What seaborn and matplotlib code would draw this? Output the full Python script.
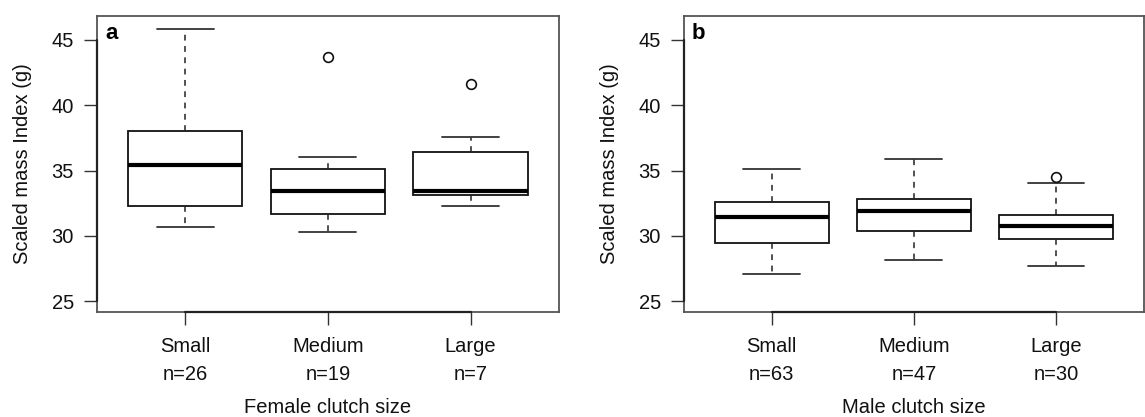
import matplotlib
matplotlib.use("Agg")
import matplotlib.pyplot as plt
import seaborn as sns
import numpy as np

# ---- data ----
categories = ["Small", "Medium", "Large"]
female_n = [26, 19, 7]
male_n = [63, 47, 30]

female_whislo = [30.67, 30.29, 32.31]
female_q1 = [32.31, 31.64, 33.15]
female_med = [35.40, 33.40, 33.40]
female_q3 = [38.00, 35.14, 36.42]
female_whishi = [45.79, 36.01, 37.54]
female_fliers = [[], [43.70], [41.58]]

male_whislo = [27.07, 28.19, 27.68]
male_q1 = [29.47, 30.39, 29.80]
male_med = [31.41, 31.92, 30.75]
male_q3 = [32.61, 32.79, 31.59]
male_whishi = [35.09, 35.91, 34.02]
male_fliers = [[], [], [34.50]]

y_ticks = [25, 30, 35, 40, 45]
y_limits = (24.16, 46.84)

sns.set_theme(style="white")
plt.rcParams["font.family"] = ["Liberation Sans", "DejaVu Sans"]

fig = plt.figure(figsize=(11.45, 4.17), dpi=100)

W, H = 1145.0, 417.0
panels = [
    dict(rect=[96.7 / W, (H - 312.3) / H, (559 - 96.7) / W, (312.3 - 15.7) / H],
         lo=female_whislo, q1=female_q1, med=female_med, q3=female_q3, hi=female_whishi,
         fl=female_fliers, n=female_n, letter="a", xlabel="Female clutch size"),
    dict(rect=[683.7 / W, (H - 312.3) / H, (1144 - 683.7) / W, (312.3 - 15.7) / H],
         lo=male_whislo, q1=male_q1, med=male_med, q3=male_q3, hi=male_whishi,
         fl=male_fliers, n=male_n, letter="b", xlabel="Male clutch size"),
]

fs = 14.5
for p in panels:
    ax = fig.add_axes(p["rect"])
    stats = []
    for i, c in enumerate(categories):
        stats.append(dict(label=c, whislo=p["lo"][i], q1=p["q1"][i], med=p["med"][i],
                          q3=p["q3"][i], whishi=p["hi"][i], fliers=p["fl"][i]))
    positions = np.arange(1, len(categories) + 1)
    ax.bxp(stats, positions=positions, widths=0.8, capwidths=0.4, patch_artist=True,
           boxprops=dict(facecolor="white", edgecolor="#111111", linewidth=1.3),
           medianprops=dict(color="black", linewidth=3.0, solid_capstyle="butt"),
           whiskerprops=dict(color="#222222", linewidth=1.1, linestyle=(0, (3.8, 3.6))),
           capprops=dict(color="#333333", linewidth=1.3),
           flierprops=dict(marker="o", markerfacecolor="white", markeredgecolor="#111111",
                           markersize=7, markeredgewidth=1.2))
    ax.set_xlim(0.38, 3.62)
    ax.set_ylim(*y_limits)
    ax.set_yticks(y_ticks)
    ax.set_yticklabels([str(t) for t in y_ticks], fontsize=fs, color="#111111")
    ax.set_xticks(positions)
    ax.set_xticklabels([f"{c}\nn={n}" for c, n in zip(categories, p["n"])],
                       fontsize=fs, color="#111111", linespacing=1.55)
    ax.tick_params(axis="both", direction="out", length=9.5, width=1.0, color="#333333",
                   bottom=True, left=True)
    ax.tick_params(axis="y", pad=7)
    ax.tick_params(axis="x", pad=8.5)
    for s in ax.spines.values():
        s.set_color("#555555")
        s.set_linewidth(1.3)
        s.set_visible(True)
    # R-style axis lines between first and last tick
    ax.plot([positions[0], positions[-1]], [y_limits[0], y_limits[0]], color="#222222",
            lw=1.6, clip_on=False, zorder=5)
    ax.plot([0.38, 0.38], [y_ticks[0], y_ticks[-1]], color="#222222",
            lw=1.6, clip_on=False, zorder=5)
    ax.set_ylabel("Scaled mass Index (g)", fontsize=fs, color="#111111")
    ax.yaxis.set_label_coords(-0.14, 0.5)
    ax.set_xlabel(p["xlabel"], fontsize=fs, color="#111111")
    ax.xaxis.set_label_coords(0.5, -0.289)
    ax.text(0.018, 0.9215, p["letter"], transform=ax.transAxes, fontsize=16,
            fontweight="bold", ha="left", va="baseline", color="black")
    ax.grid(False)

fig.savefig("out.png", dpi=100, facecolor="white")
